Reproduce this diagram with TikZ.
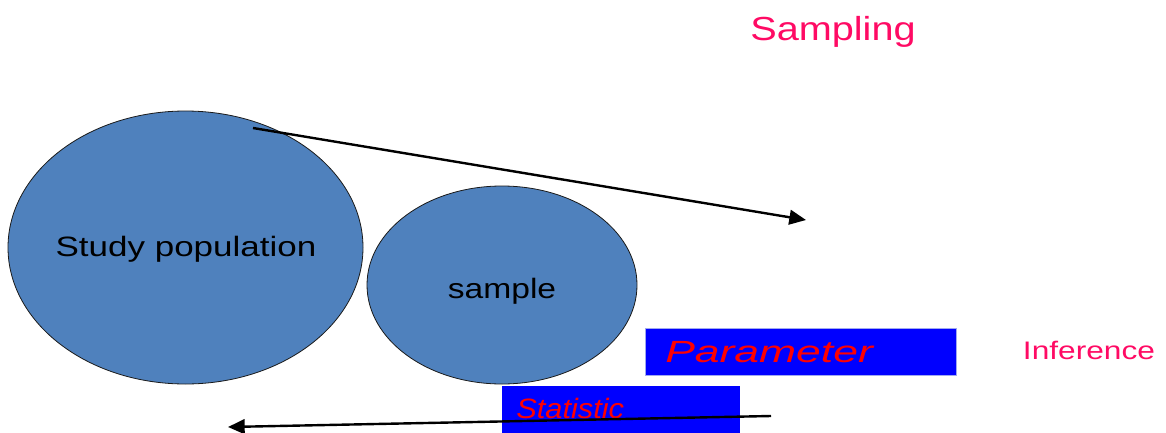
\documentclass[tikz,border=0pt]{standalone}
\usepackage{fontspec}
\setmainfont{Liberation Sans}
\usetikzlibrary{arrows.meta,shapes.geometric}
\definecolor{ellfill}{HTML}{4F81BD}
\definecolor{ellline}{HTML}{1A1A1A}
\definecolor{pinktxt}{HTML}{FF0A64}
\definecolor{boxblue}{HTML}{0000FF}
\definecolor{boxedge}{HTML}{A0A8F0}
\begin{document}
\begin{tikzpicture}[x=0.75pt,y=-0.75pt,
  blob/.style={ellipse, draw=ellline, line width=0.6pt, fill=ellfill, inner sep=0pt},
  labeltxt/.style={inner sep=0pt, font=\fontsize{21}{25}\selectfont},
  pinklabel/.style={inner sep=0pt, text=pinktxt, font=\fontsize{25}{29}\selectfont},
  bluebox/.style={rectangle, fill=boxblue, inner sep=0pt, outer sep=0pt},
  redital/.style={inner sep=0pt, text=red},
  bigarrow/.style={line width=1.8pt, -{Triangle[length=12.5pt,width=11pt]}}
]
\useasboundingbox (0,0) rectangle (1166,432);
\begin{scope}
\clip (0,0) rectangle (1166,432);
% ellipses
\node[blob, minimum width=266.25pt, minimum height=204.75pt] (pop) at (185.5,247.5) {};
\node[blob, minimum width=202.5pt, minimum height=148.5pt] (smp) at (502,285) {};
\node[labeltxt, anchor=base] (poptxt) at (186,256) {\scalebox{1.25}[1]{Study population}};
\node[labeltxt, anchor=base] (smptxt) at (502,298) {\scalebox{1.2}[1]{sample}};
% boxes
\node[bluebox, draw=boxedge, line width=0.6pt, minimum width=233.25pt, minimum height=35.25pt] (parbox) at (800.5,351.5) {};
\node[bluebox, minimum width=178.5pt, minimum height=40.5pt] (statbox) at (621,413) {};
\node[redital, anchor=base west, font=\itshape\fontsize{23}{27}\selectfont] (partxt) at (665,362.5) {\scalebox{1.45}[1]{Parameter}};
\node[redital, anchor=base west, font=\itshape\fontsize{21}{25}\selectfont] (stattxt) at (516,418) {\scalebox{1.1}[1]{Statistic}};
% labels
\node[pinklabel, anchor=base] (sampling) at (833,40) {\scalebox{1.19}[1]{Sampling}};
\node[pinklabel, anchor=base, font=\fontsize{19}{23}\selectfont] (inference) at (1089,359) {\scalebox{1.25}[1]{Inference}};
% arrows
\coordinate (a1s) at (253,128);
\coordinate (a1e) at (806,220);
\coordinate (a2s) at (771,416);
\coordinate (a2e) at (228,427);
\draw[bigarrow] (a1s) -- (a1e);
\draw[bigarrow] (a2s) -- (a2e);
\end{scope}
\end{tikzpicture}
\end{document}
